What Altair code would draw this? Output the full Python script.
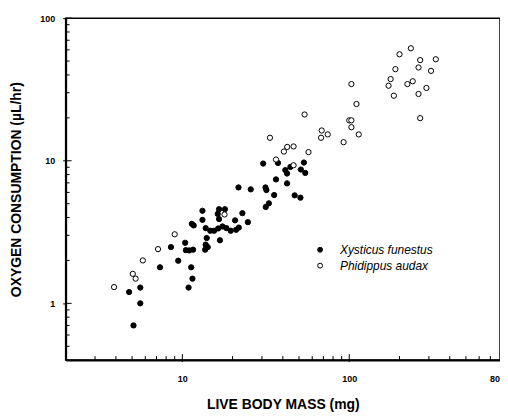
import altair as alt
import pandas as pd

# Xysticus funestus (filled)
xf_mass = [4.8, 5.6, 5.6, 5.1, 7.35, 8.55, 9.45, 10.4, 10.5, 11.0, 11.6, 11.3, 11.5, 10.9,
           11.4, 11.7, 13.2, 13.2, 13.8, 14.0, 13.8, 14.2, 13.7, 14.7, 15.5, 16.4, 16.3, 16.6,
           16.6, 18.0, 17.4, 18.35, 16.8, 19.5, 20.7, 21.0, 21.8, 22.9, 24.7, 21.7, 25.7, 30.5,
           31.5, 31.9, 33.0, 31.6, 35.5, 36.4, 37.4, 42.4, 41.4, 42.4, 44.4, 51.3, 53.5, 54.5,
           47.1, 51.0]
xf_o2 = [1.2, 1.29, 1.0, 0.70, 1.79, 2.48, 1.99, 2.66, 2.36, 2.35, 2.38, 1.79, 1.49, 1.29,
         3.61, 3.52, 4.46, 3.85, 3.37, 2.87, 2.58, 2.48, 2.38, 3.23, 3.23, 3.35, 4.24, 3.9,
         4.57, 4.57, 3.46, 3.37, 2.77, 3.23, 3.82, 3.28, 3.40, 4.29, 3.71, 6.5, 6.3, 9.56,
         6.5, 6.23, 5.03, 4.74, 5.75, 7.4, 9.65, 6.94, 8.6, 8.14, 9.05, 8.68, 9.72, 8.22,
         5.72, 5.51]

# Phidippus audax (open)
pa_mass = [3.9, 5.05, 5.25, 5.8, 7.15, 9.0, 17.9, 33.5, 36.4, 40.6, 42.5, 46.4, 46.4, 54.0,
           57.0, 68.4, 67.8, 74.3, 92.5, 100.0, 103.0, 103.0, 114.0, 103.0, 110.5, 172.0,
           177.0, 185.0, 189.0, 200.0, 223.0, 240.0, 234.0, 260.0, 266.0, 260.0, 266.0, 290.0,
           309.0, 330.0]
pa_o2 = [1.3, 1.61, 1.49, 2.0, 2.4, 3.05, 4.2, 14.5, 10.2, 11.6, 12.5, 12.6, 9.3, 21.1,
         11.5, 16.3, 14.5, 15.3, 13.5, 19.2, 19.2, 17.2, 15.3, 34.5, 25.0, 33.6,
         37.4, 28.6, 43.9, 55.8, 34.5, 36.1, 61.5, 45.1, 50.8, 29.4, 19.9, 32.4,
         42.7, 51.5]

species = ["Xysticus funestus", "Phidippus audax"]

x_ticks_minor = [2, 3, 4, 5, 6, 7, 8, 9, 20, 30, 40, 50, 60, 70, 80, 90,
                 200, 300, 400, 500, 600, 700]
x_ticks_major = [10, 100]
y_ticks_minor = [0.5, 0.6, 0.7, 0.8, 0.9, 2, 3, 4, 5, 6, 7, 8, 9,
                 20, 30, 40, 50, 60, 70, 80, 90]
y_ticks_major = [1, 10, 100]

W, H = 437, 344
FONT = "Liberation Sans"

df = pd.concat([
    pd.DataFrame({"mass": xf_mass, "o2": xf_o2, "species": species[0]}),
    pd.DataFrame({"mass": pa_mass, "o2": pa_o2, "species": species[1]}),
], ignore_index=True)

xscale = alt.Scale(type="log", domain=[2, 800], nice=False)
yscale = alt.Scale(type="log", domain=[0.4, 100], nice=False)

xaxis = alt.Axis(title="LIVE BODY MASS (mg)", values=[10, 100, 800], format="d",
                 ticks=True, tickSize=0, labelPadding=15, labelFlush=False,
                 labelOffset={"condition": {"test": "datum.value == 800", "value": -3}, "value": 0},
                 labelOverlap=False, grid=False, titleBaseline="alphabetic", titleY=49)
yaxis = alt.Axis(title="OXYGEN CONSUMPTION (µL/hr)", values=[1, 10, 100], format="d",
                 ticks=True, tickSize=3, labelPadding=8, labelFlush=False,
                 labelOverlap=False, grid=False, titleBaseline="alphabetic", titleX=-45)

points = alt.Chart(df).mark_circle(stroke="black", strokeWidth=1, opacity=1, size=28).encode(
    x=alt.X("mass:Q", scale=xscale, axis=xaxis),
    y=alt.Y("o2:Q", scale=yscale, axis=yaxis),
    fill=alt.Fill("species:N",
                  scale=alt.Scale(domain=species, range=["black", "white"]),
                  legend=alt.Legend(title=None, orient="none", legendX=250, legendY=227,
                                    symbolType="circle", symbolSize=24,
                                    symbolStrokeColor="black", symbolStrokeWidth=1,
                                    symbolOpacity=1, labelFont=FONT, labelFontSize=12,
                                    labelFontStyle="italic", labelColor="black",
                                    labelOffset=14, rowPadding=4, padding=0)),
)

xt_minor = alt.Chart(pd.DataFrame({"mass": x_ticks_minor})).mark_rule(color="black", strokeWidth=1).encode(
    x=alt.X("mass:Q", scale=xscale, axis=xaxis), y=alt.value(H), y2=alt.value(H - 4))
xt_major = alt.Chart(pd.DataFrame({"mass": x_ticks_major})).mark_rule(color="black", strokeWidth=1).encode(
    x=alt.X("mass:Q", scale=xscale, axis=xaxis), y=alt.value(H + 2), y2=alt.value(H - 6))
yt_minor = alt.Chart(pd.DataFrame({"o2": y_ticks_minor})).mark_rule(color="black", strokeWidth=1).encode(
    y=alt.Y("o2:Q", scale=yscale, axis=yaxis), x=alt.value(0), x2=alt.value(4))
yt_major = alt.Chart(pd.DataFrame({"o2": y_ticks_major})).mark_rule(color="black", strokeWidth=1).encode(
    y=alt.Y("o2:Q", scale=yscale, axis=yaxis), x=alt.value(0), x2=alt.value(6))

chart = alt.layer(points, xt_minor, xt_major, yt_minor, yt_major).properties(
    width=W, height=H,
    autosize=alt.AutoSizeParams(type="none"),
    padding={"left": 58, "top": 9, "right": 0, "bottom": 51},
).configure_view(
    stroke="black", strokeWidth=1.5
).configure_axis(
    domainColor="black", domainWidth=2, tickColor="black", tickWidth=1,
    labelFont=FONT, labelFontSize=9, labelFontWeight="bold", labelColor="black",
    titleFont=FONT, titleFontSize=14, titleFontWeight="bold", titleColor="black",
)

chart.save("out.html", embed_options={"renderer": "svg", "actions": False})
